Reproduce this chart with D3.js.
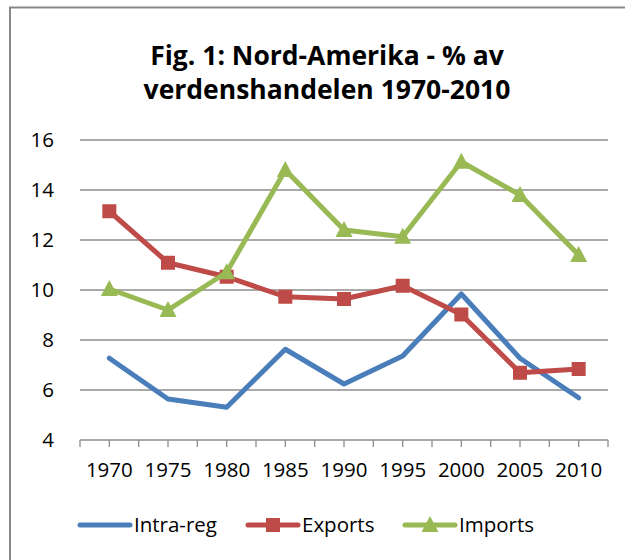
<!DOCTYPE html>
<html>
<head>
  <meta charset="utf-8">
  <title>Nord-Amerika - % av verdenshandelen</title>
  <script src="https://d3js.org/d3.v7.min.js"></script>
  <style>
    body { margin: 0; overflow: hidden; background: #fff; }
    text { font-family: "Open Sans", sans-serif; fill: #000; }
  </style>
</head>
<body>
<svg width="625" height="560"></svg>
<script>
// --- Daten ---
const years = ["1970","1975","1980","1985","1990","1995","2000","2005","2010"];
const intraReg = [7.27, 5.64, 5.31, 7.63, 6.24, 7.36, 9.84, 7.27, 5.69];
const exportsV = [13.15, 11.09, 10.53, 9.73, 9.64, 10.17, 9.02, 6.69, 6.84];
const importsV = [10.04, 9.2, 10.71, 14.8, 12.4, 12.13, 15.13, 13.8, 11.4];
const yTicks = [4, 6, 8, 10, 12, 14, 16];

const series = [
  {name: "Intra-reg", values: intraReg, color: "#4A7EBB", marker: "none"},
  {name: "Exports", values: exportsV, color: "#BE4B48", marker: "square"},
  {name: "Imports", values: importsV, color: "#98B954", marker: "triangle"}
];

const svg = d3.select("svg");

// Rahmen
svg.append("rect").attr("x", 10).attr("y", 7.5).attr("width", 640).attr("height", 580)
  .attr("fill", "none").attr("stroke", "#878787").attr("stroke-width", 2);

// Titel
const title = svg.append("text").attr("text-anchor", "middle")
  .style("font-weight", "bold").style("font-size", "26.5px");
title.append("tspan").attr("x", 327).attr("y", 65).text("Fig. 1: Nord-Amerika - % av");
title.append("tspan").attr("x", 327).attr("y", 99).text("verdenshandelen 1970-2010");

// Skalen
const x = d3.scaleBand().domain(years).range([80, 608]);
const y = d3.scaleLinear().domain([4, 16]).range([440, 140]);

// Gitter
svg.append("g").selectAll("line").data(yTicks.slice(1)).join("line")
  .attr("x1", 80).attr("x2", 608)
  .attr("y1", d => y(d)).attr("y2", d => y(d))
  .attr("stroke", "#8c8c8c").attr("stroke-width", 1.3);

svg.append("g").selectAll("text").data(yTicks).join("text")
  .attr("x", 54).attr("y", d => y(d) + 7)
  .attr("text-anchor", "end").style("font-size", "20.5px").text(d => d);

// x-Achse
svg.append("line").attr("x1", 80).attr("x2", 608).attr("y1", 440).attr("y2", 440)
  .attr("stroke", "#8c8c8c").attr("stroke-width", 1.3);
const tickXs = [];
years.forEach(yr => { tickXs.push(x(yr)); tickXs.push(x(yr) + x.bandwidth() / 2); });
tickXs.push(608);
svg.append("g").selectAll("line").data(tickXs).join("line")
  .attr("x1", d => d).attr("x2", d => d).attr("y1", 440).attr("y2", 447)
  .attr("stroke", "#8c8c8c").attr("stroke-width", 1.3);
svg.append("g").selectAll("text").data(years).join("text")
  .attr("x", d => x(d) + x.bandwidth() / 2).attr("y", 477)
  .attr("text-anchor", "middle").style("font-size", "20.5px").text(d => d);

// Linien
const cx = (d, i) => x(years[i]) + x.bandwidth() / 2;
const line = d3.line().x(cx).y(d => y(d));

function drawMarker(g, type, color, px, py) {
  if (type === "square") {
    g.append("rect").attr("x", px - 7).attr("y", py - 7).attr("width", 14).attr("height", 14)
      .attr("fill", color);
  } else if (type === "triangle") {
    g.append("path").attr("d", `M${px},${py - 9}L${px + 8.5},${py + 7}L${px - 8.5},${py + 7}Z`)
      .attr("fill", color);
  }
}

series.forEach(s => {
  svg.append("path").datum(s.values).attr("d", line)
    .attr("fill", "none").attr("stroke", s.color).attr("stroke-width", 5)
    .attr("stroke-linejoin", "round").attr("stroke-linecap", "round");
  const g = svg.append("g");
  s.values.forEach((v, i) => drawMarker(g, s.marker, s.color, cx(v, i), y(v)));
});

// Legende
const legendX = [80, 248, 405];
series.forEach((s, i) => {
  const g = svg.append("g");
  const lx = legendX[i];
  g.append("line").attr("x1", lx).attr("x2", lx + 50).attr("y1", 525).attr("y2", 525)
    .attr("stroke", s.color).attr("stroke-width", 5).attr("stroke-linecap", "round");
  drawMarker(g, s.marker, s.color, lx + 25, 525);
  g.append("text").attr("x", lx + 54).attr("y", 532).style("font-size", "20.5px").text(s.name);
});
</script>
</body>
</html>
